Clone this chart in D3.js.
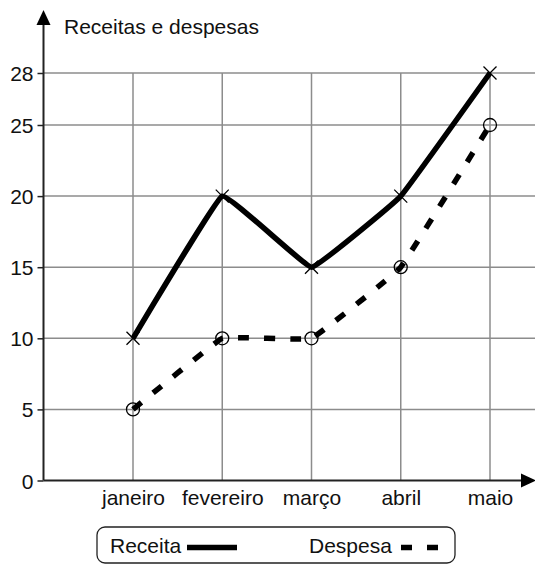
<!DOCTYPE html>
<html>
<head>
<meta charset="utf-8">
<script src="https://cdn.jsdelivr.net/npm/d3@7"></script>
<style>
  html, body { margin: 0; padding: 0; background: #fff; }
  svg { display: block; }
  text { font-family: "Liberation Sans", Arial, sans-serif; fill: #111; }
</style>
</head>
<body>
<script>
// Monthly revenue and expenses
const months = ["janeiro", "fevereiro", "março", "abril", "maio"];
const receita = [10, 20, 15, 20, 28];
const despesa = [5, 10, 10, 15, 25];
const yTicks = [0, 5, 10, 15, 20, 25, 28];

const W = 535, H = 565;
const svg = d3.select("body").append("svg").attr("width", W).attr("height", H);

const axisX = 43.5, axisY = 480.5;

const x = d3.scalePoint().domain(months).range([133, 490]);
// the top step (25 to 28) is drawn with extra room
const y = d3.scaleLinear().domain([0, 25, 28]).range([480.5, 125, 73]);

// grid
const grid = svg.append("g").attr("stroke", "#8c8c8c").attr("stroke-width", 1.5);
grid.selectAll("line.h").data(yTicks.filter(d => d > 0)).join("line")
  .attr("class", "h")
  .attr("x1", axisX).attr("x2", W)
  .attr("y1", d => y(d)).attr("y2", d => y(d));
grid.selectAll("line.v").data(months).join("line")
  .attr("class", "v")
  .attr("x1", d => x(d)).attr("x2", d => x(d))
  .attr("y1", y(28)).attr("y2", axisY);

// y axis with ticks on the left
const yAxis = d3.axisLeft(y).tickValues(yTicks).tickSize(6).tickPadding(4).tickFormat(d3.format("d"));
const gy = svg.append("g").attr("transform", `translate(${axisX},0)`).call(yAxis);
gy.select(".domain").remove();
gy.selectAll(".tick line").attr("stroke", "#222").attr("stroke-width", 1.5);
gy.selectAll(".tick text").attr("font-size", 21).attr("font-family", "Liberation Sans, Arial, sans-serif")
  .attr("fill", "#111").attr("dy", "0.36em");

// x axis labels
const xAxis = d3.axisBottom(x).tickSize(0).tickPadding(10);
const gx = svg.append("g").attr("transform", `translate(0,${axisY})`).call(xAxis);
gx.select(".domain").remove();
gx.selectAll(".tick text").attr("font-size", 21).attr("font-family", "Liberation Sans, Arial, sans-serif")
  .attr("fill", "#111");

// axis lines with arrowheads
svg.append("line").attr("x1", axisX).attr("x2", axisX).attr("y1", 22).attr("y2", axisY)
  .attr("stroke", "#222").attr("stroke-width", 2);
svg.append("line").attr("x1", axisX).attr("x2", 524).attr("y1", axisY).attr("y2", axisY)
  .attr("stroke", "#222").attr("stroke-width", 2);
svg.append("path").attr("d", `M${axisX},10 L${axisX - 7},25 L${axisX + 7},25 Z`).attr("fill", "#000");
svg.append("path").attr("d", `M536,${axisY} L521,${axisY - 7} L521,${axisY + 7} Z`).attr("fill", "#000");

svg.append("text").attr("x", 64).attr("y", 34).attr("font-size", 21).text("Receitas e despesas");

// series lines
const line = d3.line()
  .x((d, i) => x(months[i]))
  .y(d => y(d))
  .curve(d3.curveCardinal.tension(0.8));

svg.append("path").datum(receita).attr("d", line)
  .attr("fill", "none").attr("stroke", "#000").attr("stroke-width", 5.5)
  .attr("stroke-linejoin", "miter");
svg.append("path").datum(despesa).attr("d", line)
  .attr("fill", "none").attr("stroke", "#000").attr("stroke-width", 5.5)
  .attr("stroke-dasharray", "11,15");

// markers
const s = 6.5;
svg.append("g").selectAll("path").data(receita).join("path")
  .attr("d", (d, i) => {
    const cx = x(months[i]), cy = y(d);
    return `M${cx - s},${cy - s}L${cx + s},${cy + s}M${cx - s},${cy + s}L${cx + s},${cy - s}`;
  })
  .attr("stroke", "#000").attr("stroke-width", 1.3).attr("fill", "none");
svg.append("g").selectAll("circle").data(despesa).join("circle")
  .attr("cx", (d, i) => x(months[i])).attr("cy", d => y(d)).attr("r", 6.5)
  .attr("fill", "none").attr("stroke", "#000").attr("stroke-width", 1.3);

// legend
const lg = svg.append("g");
lg.append("rect").attr("x", 97).attr("y", 527).attr("width", 358).attr("height", 36).attr("rx", 8)
  .attr("fill", "#fff").attr("stroke", "#222").attr("stroke-width", 1.3);
lg.append("text").attr("x", 110).attr("y", 553).attr("font-size", 21).text("Receita");
lg.append("line").attr("x1", 187).attr("x2", 237).attr("y1", 547.5).attr("y2", 547.5)
  .attr("stroke", "#000").attr("stroke-width", 5.5);
lg.append("text").attr("x", 309).attr("y", 553).attr("font-size", 21).text("Despesa");
lg.append("line").attr("x1", 401).attr("x2", 438).attr("y1", 547.5).attr("y2", 547.5)
  .attr("stroke", "#000").attr("stroke-width", 5.5).attr("stroke-dasharray", "11,15");
</script>
</body>
</html>
